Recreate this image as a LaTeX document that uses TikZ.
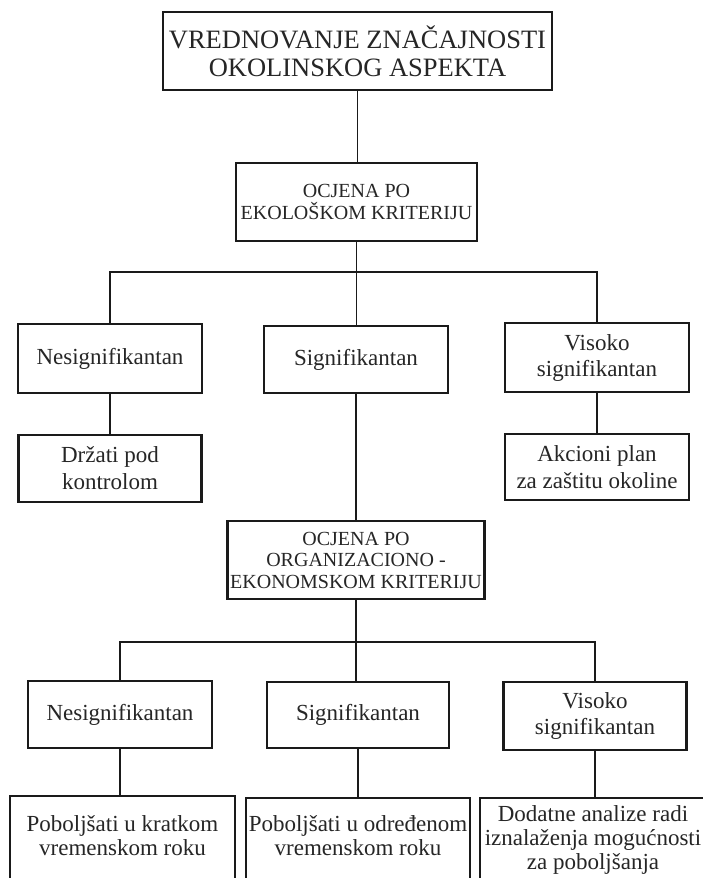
\documentclass[tikz,border=0pt]{standalone}
\usepackage{fontspec}
\setmainfont{Liberation Serif}
\definecolor{ink}{HTML}{262626}
\definecolor{edge}{HTML}{1A1A1A}
\tikzset{
  box/.style={draw=edge, line width=2.2pt, inner sep=0pt, align=center, text=ink},
  conn/.style={draw=edge, line width=1.4pt},
  big/.style={font=\fontsize{26.5}{28}\selectfont},
  caps/.style={font=\fontsize{20}{22}\selectfont},
  body/.style={font=\fontsize{23}{26}\selectfont},
  tight/.style={font=\fontsize{23}{24}\selectfont},
}
\begin{document}
\begin{tikzpicture}[x=1pt,y=-1pt]
\useasboundingbox[fill=white] (0,0) rectangle (703,878);

% level 0
\node[box,big,minimum width=389,minimum height=78] (top) at (357.5,51) {VREDNOVANJE ZNAČAJNOSTI\\OKOLINSKOG ASPEKTA};
\node[box,caps,minimum width=241,minimum height=78] (eko) at (356.5,202) {OCJENA PO\\EKOLOŠKOM KRITERIJU};

% level 1
\node[box,body,minimum width=184,minimum height=69] (n1) at (110,358.5) {Nesignifikantan};
\node[box,body,minimum width=184,minimum height=67] (s1) at (356,359.5) {Signifikantan};
\node[box,body,minimum width=184,minimum height=69] (v1) at (597,357.5) {Visoko\\signifikantan};
\node[box,font=\fontsize{23}{27}\selectfont,minimum width=183,minimum height=67] (d1) at (110,468.5) {Držati pod\\kontrolom};
\node[box,font=\fontsize{23}{27}\selectfont,minimum width=184,minimum height=66] (a1) at (597,467) {Akcioni plan\\za zaštitu okoline};

% level 2
\node[box,font=\fontsize{20}{21.5}\selectfont,minimum width=257,minimum height=78] (org) at (356,560) {OCJENA PO\\ORGANIZACIONO -\\EKONOMSKOM KRITERIJU};
\node[box,body,minimum width=184,minimum height=67] (n2) at (120,714.5) {Nesignifikantan};
\node[box,body,minimum width=182,minimum height=66] (s2) at (358,715) {Signifikantan};
\node[box,body,minimum width=183,minimum height=68] (v2) at (595,716) {Visoko\\signifikantan};

% bottom boxes (cut by the page edge)
\node[box,tight,anchor=north,minimum width=225] (b1) at (122.5,795) {\rule{0pt}{35pt}Poboljšati u kratkom\\vremenskom roku\rule[-60pt]{0pt}{60pt}};
\node[box,tight,anchor=north,minimum width=224] (b2) at (358,797) {\rule{0pt}{33pt}Poboljšati u određenom\\vremenskom roku\rule[-60pt]{0pt}{60pt}};
\node[box,tight,anchor=north,minimum width=226] (b3) at (593,797) {\rule{0pt}{23pt}Dodatne analize radi\\iznalaženja mogućnosti\\za poboljšanja\rule[-40pt]{0pt}{40pt}};

% buses
\coordinate (bus1) at (356.5,272);
\coordinate (bus2) at (356,642);

% connectors
\draw[conn] (top.south) -- (top.south |- eko.north);
\draw[conn] (eko.south) -- (eko.south |- s1.north);
\draw[conn] (n1.north) |- (bus1) -| (v1.north);
\draw[conn] (n1.south) -- (d1.north);
\draw[conn] (v1.south) -- (a1.north);
\draw[conn] (s1.south) -- (org.north);
\draw[conn] (org.south) -- (org.south |- s2.north);
\draw[conn] (n2.north) |- (bus2) -| (v2.north);
\draw[conn] (n2.south) -- (n2.south |- b1.north);
\draw[conn] (s2.south) -- (b2.north);
\draw[conn] (v2.south) -- (v2.south |- b3.north);
\end{tikzpicture}
\end{document}
